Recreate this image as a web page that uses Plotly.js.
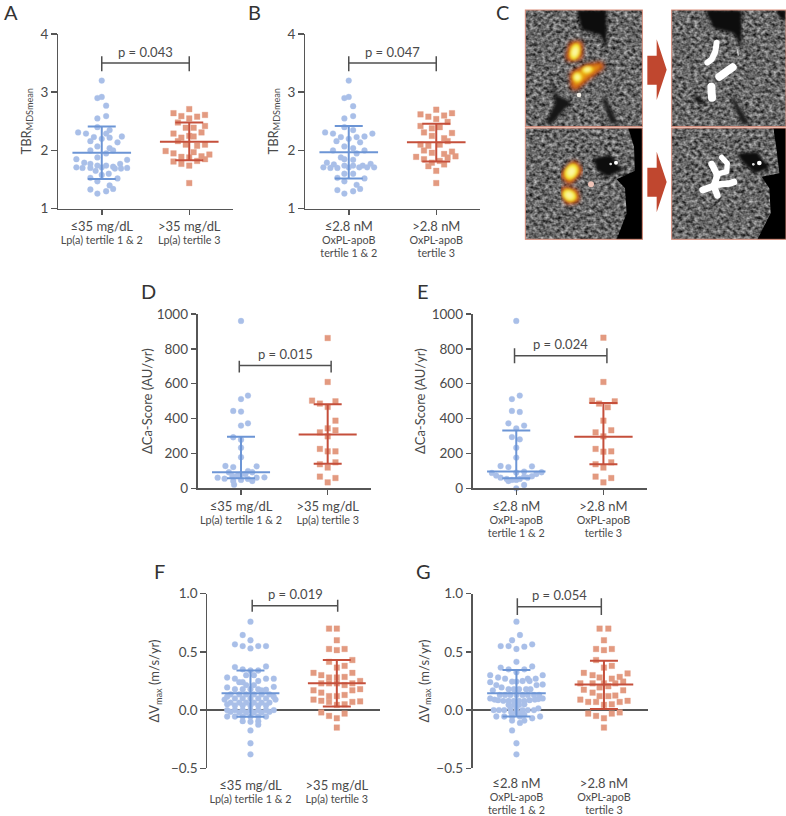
<!DOCTYPE html>
<html><head><meta charset="utf-8">
<script src="https://cdn.plot.ly/plotly-3.0.1.min.js"></script>
<style>html,body{margin:0;padding:0;background:#fff}</style></head>
<body><div id="chart" style="width:786px;height:816px"></div>
<script>
// Panel A
const a1off=[0,-.05,0,.05,-.05,.05,-.05,.09,-.27,-.18,.05,.09,-.09,0,.23,-.13,.18,-.05,.09,-.13,.13,.05,-.05,-.29,.29,-.20,-.13,.21,-.29,-.22,-.13,-.05,.05,.13,.15,.22,.29,0,-.07,0,.08,-.13,.18,-.05,.09,.13,-.13,.05,-.05];
const a1val=[3.20,2.90,2.92,2.77,2.55,2.59,2.40,2.35,2.31,2.29,2.29,2.22,2.23,2.20,2.24,2.16,2.14,2.07,2.04,2.00,2.00,1.95,1.88,1.85,1.84,1.79,1.77,1.77,1.71,1.70,1.70,1.74,1.74,1.72,1.69,1.69,1.70,1.71,1.65,1.58,1.60,1.53,1.52,1.47,1.40,1.34,1.33,1.30,1.26];
const a2off=[0,-.18,-.09,0,.09,.18,-.13,-.04,.05,.18,-.18,.14,-.09,.05,-.13,-.04,.09,.18,.05,-.27,-.18,.23,-.09,0,.14,-.18,.09,.18,-.09,0,0,0];
const a2val=[2.71,2.64,2.59,2.55,2.58,2.61,2.48,2.39,2.39,2.42,2.29,2.31,2.22,2.24,2.16,2.10,2.08,2.10,1.97,1.99,1.95,1.93,1.89,1.88,1.90,1.81,1.82,1.85,1.77,1.74,1.44,2.25];
// Panel B
const b1off=[0,-.05,0,.05,-.05,.05,-.05,.05,-.27,-.18,0,-.09,.09,.18,.27,-.14,.13,-.05,.05,-.18,.18,.09,-.09,-.05,.05,-.25,-.17,.25,-.29,-.21,-.13,-.05,.05,.12,.16,.21,.29,0,-.05,.05,-.13,.18,-.05,.09,.13,-.13,.05,-.05];
const b1val=[3.20,2.90,2.92,2.76,2.55,2.59,2.40,2.35,2.31,2.29,2.20,2.23,2.23,2.24,2.29,2.16,2.14,2.07,2.04,2.00,2.00,1.95,1.88,1.85,1.84,1.79,1.76,1.77,1.71,1.70,1.70,1.74,1.74,1.71,1.74,1.71,1.71,1.71,1.60,1.60,1.53,1.52,1.47,1.41,1.34,1.32,1.30,1.26];
const b2off=[0,-.18,-.09,0,.09,.18,.13,-.18,-.05,.04,-.14,.18,-.05,.09,.13,-.09,-.18,.04,-.14,-.05,.18,.09,-.23,.22,.13,-.14,.04,-.05,-.09,.09,0,0];
const b2val=[2.70,2.62,2.58,2.54,2.60,2.64,2.49,2.42,2.38,2.40,2.31,2.30,2.25,2.21,2.16,2.08,2.10,2.10,2.00,1.96,1.98,1.94,1.89,1.90,1.88,1.85,1.82,1.79,1.73,1.76,1.65,1.44];
// Panel D
const d1off=[0,.08,0,-.09,0,.08,0,-.09,0,0,0,-.18,-.09,.18,.08,-.14,-.04,.05,.13,-.27,.27,-.19,-.10,0,0,-.09,.08,.13,.18,-.08,0];
const d1val=[960,532,512,444,440,373,360,293,279,233,178,128,122,126,99,92,73,82,92,61,63,55,71,80,48,42,54,42,61,21,-29];
const d2off=[0,0,-.18,-.09,.09,0,.09,0,-.09,.09,0,-.09,0,.09,-.09,.09,0,-.09,.09,0];
const d2val=[862,610,503,486,499,467,388,344,321,333,298,226,212,212,138,149,119,67,59,34];
// Panel E
const e1off=[0,.04,-.05,-.05,.04,-.09,.09,0,-.05,.04,0,0,-.18,-.09,.18,.09,0,-.28,-.23,.29,.23,.18,-.18,-.09,-.05,0,.04,.09,.13,-.11,.09,0,0];
const e1val=[960,532,512,444,438,373,360,344,294,281,233,176,128,122,126,96,90,88,73,92,82,69,61,42,48,48,54,67,61,54,19,0,-29];
const e2off=[0,0,-.13,-.05,.13,.05,0,.09,-.09,0,-.09,0,.09,-.09,.09,0,-.09,.09,0];
const e2val=[864,610,503,486,499,465,388,333,321,298,226,210,212,138,149,119,67,59,34];
// Panel F
const f1off=[0,-.09,0,-.18,-.09,0,.09,.18,-.18,-.09,.18,0,.09,-.05,.04,-.27,-.18,.27,.18,-.13,-.09,.09,-.05,.04,-.27,-.18,-.09,0,.09,.18,.27,.13,-.23,-.13,-.05,.04,.13,.22,-.27,-.18,-.09,0,.09,.18,.27,-.30,.29,-.23,-.13,-.05,.04,.13,.22,-.27,-.18,-.09,0,.09,.18,-.27,-.18,-.09,0,.09,.18,.27,-.23,-.13,-.05,.04,.13,.22,-.27,-.18,-.09,0,.09,.18,-.09,0,.09,.09,0,0,0];
const f1val=[.76,.645,.60,.565,.55,.53,.55,.55,.37,.35,.375,.34,.34,.30,.30,.28,.27,.27,.27,.24,.24,.25,.215,.215,.195,.18,.18,.18,.18,.175,.20,.17,.135,.135,.135,.135,.135,.135,.115,.10,.10,.10,.10,.10,.115,.09,.09,.065,.065,.065,.065,.065,.065,.05,.04,.04,.04,.04,.04,0,0,0,0,0,0,0,-.015,-.02,-.02,-.02,-.02,-.015,-.055,-.055,-.055,-.055,-.055,-.055,-.095,-.10,-.095,-.125,-.175,-.285,-.38];
const f2off=[-.09,0,0,-.09,0,.09,-.09,.18,0,.09,-.27,-.18,-.09,.09,.18,-.18,-.09,0,.27,.18,-.27,-.18,.18,.27,-.09,0,.09,-.27,-.18,-.09,0,.09,.18,.27,-.18,-.09,0,.09,0,.09,0];
const f2val=[.70,.70,.60,.525,.515,.525,.415,.43,.365,.38,.32,.30,.28,.285,.32,.23,.23,.23,.25,.23,.17,.15,.17,.18,.12,.12,.13,.09,.08,.07,.045,.05,.07,.075,-.02,-.05,-.07,-.03,-.15,.215,.28];
// Panel G
const g1off=[0,.04,-.05,-.18,-.09,0,.09,.18,0,-.18,-.09,.09,.18,0,-.30,-.21,-.13,.30,.22,.13,-.30,-.05,0,.07,.15,.30,.23,-.23,-.27,-.17,-.09,-.03,.03,.11,.16,-.19,-.13,-.07,0,.07,.13,.2,.26,-.30,-.25,-.21,-.15,-.09,-.03,.03,.09,.15,.21,.25,.30,-.09,-.03,.03,.09,.25,-.26,-.20,-.14,-.07,0,.07,.13,.2,-.06,0,.06,-.23,-.14,-.05,.04,.09,.18,.27,-.05,.09,.04,-.05,0,0];
const g1val=[.76,.645,.60,.55,.55,.525,.545,.565,.415,.365,.35,.35,.375,.325,.30,.28,.27,.30,.27,.27,.24,.245,.245,.25,.25,.22,.215,.215,.17,.195,.18,.18,.18,.18,.18,.13,.13,.13,.13,.13,.13,.13,.13,.10,.09,.085,.08,.08,.08,.08,.08,.085,.09,.095,.10,.045,.045,.045,.05,.015,0,0,0,.01,.015,0,0,0,-.02,-.02,-.02,-.055,-.055,-.055,-.055,-.04,-.07,-.055,-.09,-.09,-.11,-.175,-.285,-.38];
const g2off=[-.05,.05,0,-.09,0,.09,-.09,0,.09,-.23,-.13,-.05,.09,.18,.27,-.27,-.13,0,.13,.22,-.23,-.13,-.05,.05,.22,-.05,.05,.13,-.27,-.18,-.09,0,.09,.18,.27,-.18,-.09,0,.09,.18,0];
const g2val=[.70,.70,.60,.525,.515,.525,.43,.365,.38,.32,.30,.28,.27,.285,.315,.23,.23,.23,.23,.245,.175,.15,.195,.205,.17,.12,.12,.125,.09,.07,.07,.045,.05,.07,.08,-.03,-.05,-.07,-.03,-.02,-.15];
// mean, upper bar, lower bar
const a1stat=[1.96,2.41,1.51], a2stat=[2.15,2.48,1.83];
const b1stat=[1.97,2.42,1.52], b2stat=[2.14,2.46,1.81];
const d1stat=[92,296,57],      d2stat=[308,482,141];
const e1stat=[96,331,57],      e2stat=[296,490,138];
const f1stat=[.145,.34,-.057], f2stat=[.23,.43,.03];
const g1stat=[.145,.345,-.055],g2stat=[.22,.425,.01];
// Labels
const big=t=>`<span style="font-size:13px">${t}</span>`, small=t=>`<span style="font-size:10.8px">${t}</span>`;
const lpaTicks=[big('≤35 mg/dL')+'<br>'+small('Lp(a) tertile 1 &amp; 2'),big('>35 mg/dL')+'<br>'+small('Lp(a) tertile 3')];
const oxTicks=[big('≤2.8 nM')+'<br>'+small('OxPL-apoB')+'<br>'+small('tertile 1 &amp; 2'),big('>2.8 nM')+'<br>'+small('OxPL-apoB')+'<br>'+small('tertile 3')];
const tbrTitle='TBR<sub>MDSmean</sub>', caTitle='ΔCa-Score (AU/yr)', vTitle='ΔV<sub>max</sub> (m/s/yr)';

const BLUE='#a9bfe8',BLUEL='#6c95d5',RED='#e39a80',REDL='#c54f3b',INK='#4a4a4a',AX='#565656';
const FONT='Lato, "Noto Sans", sans-serif';

const panels=[
 {l:'A',L:58,R:233,T:34,B:208.7,yr:[1,4],tv:[1,2,3,4],title:tbrTitle,tt:lpaTicks,s:[a1off,a1val,a1stat,a2off,a2val,a2stat],br:[1,2,3.36,3.5,3.62],p:'p = 0.043',px:1.5,py:3.69,lx:2,ly:12,zero:false,st:6,ls:4},
 {l:'B',L:305,R:480,T:34,B:208.7,yr:[1,4],tv:[1,2,3,4],title:tbrTitle,tt:oxTicks,s:[b1off,b1val,b1stat,b2off,b2val,b2stat],br:[1,2,3.36,3.5,3.62],p:'p = 0.047',px:1.5,py:3.69,lx:246,ly:12,zero:false,st:6,ls:4},
 {l:'D',L:197.7,R:371,T:314,B:488.3,yr:[0,1000],tv:[0,200,400,600,800,1000],title:caTitle,tt:lpaTicks,s:[d1off,d1val,d1stat,d2off,d2val,d2stat],br:[.98,2.04,665,704,732],p:'p = 0.015',px:1.51,py:769,lx:139,ly:291,zero:false,st:1,ls:4},
 {l:'E',L:472.7,R:647,T:314,B:488.3,yr:[0,1000],tv:[0,200,400,600,800,1000],title:caTitle,tt:oxTicks,s:[e1off,e1val,e1stat,e2off,e2val,e2stat],br:[.98,2.04,717,761,803],p:'p = 0.024',px:1.51,py:826,lx:415,ly:291,zero:false,st:3,ls:4},
 {l:'F',L:207.3,R:380,T:593.7,B:768.3,yr:[-.5,1],tv:[-.5,0,.5,1],title:vTitle,tt:lpaTicks,s:[f1off,f1val,f1stat,f2off,f2val,f2stat],br:[1.02,2.01,.845,.897,.948],p:'p = 0.019',px:1.52,py:.997,lx:152,ly:571,zero:true,st:8,ls:4},
 {l:'G',L:472.7,R:647.7,T:593.7,B:768.3,yr:[-.5,1],tv:[-.5,0,.5,1],title:vTitle,tt:oxTicks,s:[g1off,g1val,g1stat,g2off,g2val,g2stat],br:[1.01,1.97,.817,.888,.96],p:'p = 0.054',px:1.49,py:.988,lx:414,ly:571,zero:true,st:4,ls:2}
];

const W=786,H=816;
const traces=[];
const layout={width:W,height:H,margin:{l:0,r:0,t:0,b:0},paper_bgcolor:'#fff',plot_bgcolor:'rgba(0,0,0,0)',showlegend:false,font:{family:FONT,color:INK,size:13},annotations:[],images:[]};

panels.forEach((p,i)=>{
 const n=i===0?'':String(i+1), xa='x'+n, ya='y'+n;
 layout['xaxis'+n]={domain:[p.L/W,p.R/W],range:[.5,2.5],anchor:ya,tickmode:'array',tickvals:[1,2],ticktext:p.tt,ticklabelstandoff:p.ls,showline:!p.zero,linecolor:AX,linewidth:1.5,ticks:'outside',ticklen:5,tickwidth:1.5,tickcolor:p.zero?'rgba(0,0,0,0)':AX,showgrid:false,zeroline:false,tickfont:{family:FONT,size:10,color:INK},tickangle:0,fixedrange:true};
 layout['yaxis'+n]={domain:[1-p.B/H,1-p.T/H],range:p.yr,anchor:xa,tickmode:'array',tickvals:p.tv,tickformat:p.zero?'.1f':'d',showline:true,linecolor:AX,linewidth:1.5,ticks:'outside',ticklen:5.5,tickwidth:1.5,tickcolor:AX,showgrid:false,zeroline:p.zero,zerolinecolor:AX,zerolinewidth:1.5,tickfont:{family:FONT,size:13.5,color:INK},title:{text:p.title,font:{family:FONT,size:13,color:INK},standoff:p.st},fixedrange:true};
 const [o1,v1,s1,o2,v2,s2]=p.s;
 [[1,o1,v1,s1,'circle',BLUE,BLUEL],[2,o2,v2,s2,'square',RED,REDL]].forEach(([g,o,v,s,sym,c,lc])=>{
  traces.push({type:'scatter',mode:'markers',xaxis:xa,yaxis:ya,x:o.map(d=>g+d),y:v,cliponaxis:false,marker:{symbol:sym,size:sym==='circle'?5.8:5.6,color:c,line:{width:.8,color:sym==='circle'?'rgba(169,191,232,.4)':'rgba(227,154,128,.4)'}},hoverinfo:'skip'});
  traces.push({type:'scatter',mode:'lines',xaxis:xa,yaxis:ya,x:[g-.335,g+.335],y:[s[0],s[0]],cliponaxis:false,line:{color:lc,width:2},hoverinfo:'skip'});
  traces.push({type:'scatter',mode:'markers',xaxis:xa,yaxis:ya,x:[g],y:[s[0]],cliponaxis:false,marker:{size:1,opacity:0},error_y:{type:'data',symmetric:false,array:[s[1]-s[0]],arrayminus:[s[0]-s[2]],color:lc,thickness:2,width:14},hoverinfo:'skip'});
 });
 const [bx1,bx2,lo,mid,hi]=p.br;
 traces.push({type:'scatter',mode:'lines',xaxis:xa,yaxis:ya,x:[bx1,bx1,null,bx1,bx2,null,bx2,bx2],y:[lo,hi,null,mid,mid,null,lo,hi],line:{color:'#4f4f4f',width:1.5},cliponaxis:false,hoverinfo:'skip'});
 layout.annotations.push({xref:xa,yref:ya,x:p.px,y:p.py,text:p.p,showarrow:false,xanchor:'center',yanchor:'middle',font:{family:FONT,size:13,color:INK}});
 layout.annotations.push({xref:'paper',yref:'paper',x:p.lx/W,y:1-p.ly/H,text:p.l,showarrow:false,xanchor:'left',yanchor:'middle',font:{family:FONT,size:20,color:'#333'}});
});
layout.annotations.push({xref:'paper',yref:'paper',x:494/W,y:1-12/H,text:'C',showarrow:false,xanchor:'left',yanchor:'middle',font:{family:FONT,size:20,color:'#333'}});

// Panel C: the photographic insets, as a layout image (coordinates in 3x of a 276x250 box)
const heat=(paths)=>`<g filter="url(#b6)">${paths.map(d=>`<path d="${d}" fill="#b83a1c" stroke="#b83a1c" stroke-width="26" stroke-linejoin="round"/>`).join('')}</g><g filter="url(#b4)">${paths.map(d=>`<path d="${d}" fill="#e89a10" stroke="#e89a10" stroke-width="10" stroke-linejoin="round"/>`).join('')}</g>`;
const core=(items)=>`<g filter="url(#b3)">${items.map(e=>`<ellipse cx="${e[0]}" cy="${e[1]}" rx="${e[2]}" ry="${e[3]}" transform="rotate(${e[4]} ${e[0]} ${e[1]})" fill="#f4ea30"/><ellipse cx="${e[0]}" cy="${e[1]}" rx="${e[2]*.55}" ry="${e[3]*.55}" transform="rotate(${e[4]} ${e[0]} ${e[1]})" fill="#fbf6a0"/>`).join('')}</g>`;
const svg=`<svg xmlns="http://www.w3.org/2000/svg" width="828" height="750" viewBox="0 0 828 750">
<defs>
<filter id="n" x="0" y="0" width="100%" height="100%" color-interpolation-filters="sRGB"><feTurbulence type="fractalNoise" baseFrequency="0.085 0.1" numOctaves="2" seed="7"/><feColorMatrix type="matrix" values="0.95 0 0 0 -0.07  0.95 0 0 0 -0.07  0.95 0 0 0 -0.07  0 0 0 0 1"/></filter>
<filter id="b2" x="-30%" y="-30%" width="160%" height="160%"><feGaussianBlur stdDeviation="2"/></filter>
<filter id="b3" x="-30%" y="-30%" width="160%" height="160%"><feGaussianBlur stdDeviation="4"/></filter>
<filter id="b4" x="-30%" y="-30%" width="160%" height="160%"><feGaussianBlur stdDeviation="6"/></filter>
<filter id="b6" x="-30%" y="-30%" width="160%" height="160%"><feGaussianBlur stdDeviation="6"/></filter>
<clipPath id="c1"><rect x="46" y="30" width="351" height="350"/></clipPath>
<clipPath id="c2"><rect x="485" y="30" width="343" height="350"/></clipPath>
<clipPath id="c3"><rect x="46" y="384" width="351" height="334"/></clipPath>
<clipPath id="c4"><rect x="485" y="384" width="343" height="334"/></clipPath>
</defs>
<g clip-path="url(#c1)"><rect x="46" y="30" width="351" height="350" filter="url(#n)"/>
 <g filter="url(#b3)"><path d="M200 30H290V150L270 105L215 90Z" fill="#0c0c0c"/><path d="M120 220L140 285L185 305L125 372L105 372L135 310Z" fill="#141414"/><path d="M285 290L325 370L300 370L278 300Z" fill="#1c1c1c"/></g>
 ${heat(['M188 138L206 135L205 168L180 172Z','M192 225L232 205L270 198L228 230L195 258Z'])}
 ${core([[195,155,15,25,15],[232,209,17,11,-10],[202,232,14,15,0]])}
 <circle cx="207" cy="285" r="7" fill="#f4f0e8" filter="url(#b2)"/>
</g>
<g clip-path="url(#c2)"><rect x="485" y="30" width="343" height="350" filter="url(#n)"/>
 <g filter="url(#b3)"><path d="M585 30H695V140L670 100L610 85Z" fill="#0c0c0c"/><path d="M800 30H828V62L805 50Z" fill="#0c0c0c"/><path d="M550 280L590 310L605 312L560 310Z" fill="#0c0c0c"/><path d="M670 290L720 372L695 372L665 300Z" fill="#1c1c1c"/></g>
 <g filter="url(#b2)" fill="none" stroke="#fff" stroke-linecap="round" stroke-linejoin="round"><path d="M620 128L616 155L605 178L592 188" stroke-width="18"/><path d="M628 230L668 202" stroke-width="24"/><path d="M604 260L606 293" stroke-width="24"/><path d="M682 150L685 165" stroke-width="5" opacity=".6"/></g>
</g>
<g clip-path="url(#c3)"><rect x="46" y="384" width="351" height="334" filter="url(#n)"/>
 <g filter="url(#b2)"><path d="M355 384H400V525H375L372 440Z" fill="#050505"/><path d="M318 722L350 640L345 565L320 538L375 512L400 512V722Z" fill="#050505"/></g>
 <g filter="url(#b3)"><path d="M250 475L300 465L340 510L290 530L260 510Z" fill="#111"/></g>
 <circle cx="318" cy="488" r="6" fill="#fff" filter="url(#b2)"/><circle cx="302" cy="492" r="4" fill="#ddd" filter="url(#b2)"/>
 ${heat(['M192 495L205 512L178 540L165 525Z','M165 572L192 578L196 596L175 600Z'])}
 ${core([[184,515,19,25,30],[178,586,22,17,30]])}
 <circle cx="243" cy="553" r="9" fill="#eec4b8" filter="url(#b2)"/>
</g>
<g clip-path="url(#c4)"><rect x="485" y="384" width="343" height="334" filter="url(#n)"/>
 <g filter="url(#b2)"><path d="M790 384H832V722H740L782 640L778 565L755 530L808 520L800 450Z" fill="#050505"/></g>
 <g filter="url(#b3)"><path d="M680 460L740 455L780 505L735 520L700 490Z" fill="#111"/></g>
 <circle cx="748" cy="489" r="7" fill="#fff" filter="url(#b2)"/><circle cx="730" cy="493" r="4" fill="#ddd" filter="url(#b2)"/>
 <g filter="url(#b2)" fill="none" stroke="#fff" stroke-linecap="round" stroke-linejoin="round"><path d="M605 492L622 525L612 558L578 570" stroke-width="20"/><path d="M612 560L622 586" stroke-width="20"/><path d="M612 555L660 550L672 546" stroke-width="20"/><path d="M635 472L652 490L650 515L630 520" stroke-width="16"/></g>
</g>
<g fill="none" stroke="#d98b78" stroke-width="3"><rect x="46" y="30" width="351" height="350"/><rect x="485" y="30" width="343" height="350"/><rect x="46" y="384" width="351" height="334"/><rect x="485" y="384" width="343" height="334"/></g>
<path d="M412 167H440V118L470 209L440 300V254H412Z" fill="#c0472f"/>
<path d="M412 503H440V455L470 546L440 637V590H412Z" fill="#c0472f"/>
</svg>`;
layout.images.push({source:'data:image/svg+xml,'+encodeURIComponent(svg),xref:'paper',yref:'paper',x:510/W,y:1,sizex:276/W,sizey:250/H,xanchor:'left',yanchor:'top',sizing:'stretch',layer:'below'});

Plotly.newPlot('chart',traces,layout,{displayModeBar:false,staticPlot:true});
</script></body></html>
